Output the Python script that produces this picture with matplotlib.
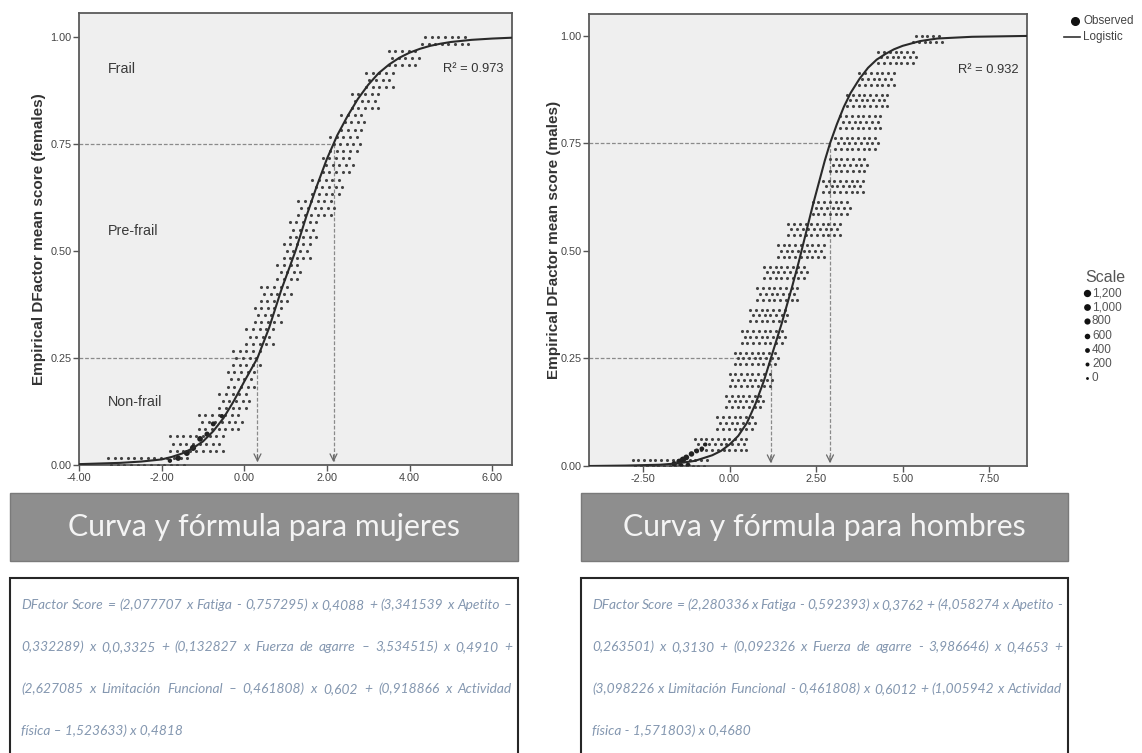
import matplotlib
matplotlib.use('Agg')
import matplotlib.pyplot as plt
from matplotlib.ticker import FormatStrFormatter
from matplotlib.patches import Rectangle
from matplotlib.lines import Line2D

W, H = 1142, 753

# logistic curves, points
f_curve_x = [-4.0, -3.0, -2.5, -2.0, -1.75, -1.5, -1.25, -1.0, -0.75, -0.5, -0.25, 0.0, 0.32,
             0.6, 0.9, 1.24, 1.5, 1.75, 2.0, 2.16, 2.25, 2.5, 2.75, 3.0, 3.25, 3.5, 3.75,
             4.0, 4.25, 4.5, 4.75, 5.0, 5.5, 6.0, 6.48]
f_curve_y = [0.002, 0.005, 0.008, 0.013, 0.019, 0.027, 0.039, 0.055, 0.079, 0.11, 0.15, 0.195, 0.25,
             0.32, 0.41, 0.50, 0.58, 0.65, 0.715, 0.75, 0.77, 0.815, 0.855, 0.888, 0.915, 0.935, 0.951,
             0.963, 0.972, 0.979, 0.984, 0.988, 0.993, 0.996, 0.998]
m_curve_x = [-4.06, -3.0, -2.0, -1.5, -1.0, -0.5, -0.25, 0.0, 0.25, 0.5, 0.75, 1.0, 1.19, 1.5,
             1.8, 2.0, 2.2, 2.4, 2.6, 2.75, 2.9, 3.1, 3.3, 3.5, 3.75, 4.0, 4.25, 4.5, 4.75,
             5.0, 5.5, 6.0, 7.0, 8.59]
m_curve_y = [0.0, 0.001, 0.003, 0.006, 0.012, 0.025, 0.035, 0.05, 0.07, 0.10, 0.145, 0.20, 0.25, 0.33,
             0.415, 0.475, 0.54, 0.605, 0.665, 0.71, 0.75, 0.795, 0.835, 0.868, 0.90, 0.926, 0.945, 0.958,
             0.969, 0.977, 0.988, 0.994, 0.998, 1.0]

# observed points: x range of the dot band at each score level
band_y = [0.00, 0.05, 0.10, 0.15, 0.20, 0.25, 0.30, 0.35, 0.40, 0.45, 0.50,
          0.55, 0.60, 0.65, 0.70, 0.75, 0.80, 0.85, 0.90, 0.95, 1.00]
f_band_lo = [-3.3, -1.8, -1.1, -0.6, -0.4, -0.27, 0.05, 0.25, 0.4, 0.8, 0.95,
             1.1, 1.3, 1.65, 1.9, 2.08, 2.35, 2.6, 2.95, 3.5, 4.3]
f_band_hi = [-1.3, -0.5, -0.05, 0.14, 0.25, 0.4, 0.75, 0.95, 1.15, 1.4, 1.6,
             1.8, 2.2, 2.4, 2.7, 2.85, 2.97, 3.25, 3.6, 4.25, 5.5]
m_band_lo = [-2.8, -1.0, -0.35, -0.1, 0.0, 0.15, 0.35, 0.6, 0.8, 1.0, 1.4,
             1.7, 2.4, 2.7, 2.9, 3.05, 3.2, 3.4, 3.75, 4.3, 5.3]
m_band_hi = [-0.6, 0.5, 0.8, 1.05, 1.3, 1.45, 1.6, 1.75, 2.0, 2.3, 2.75,
             3.2, 3.5, 3.9, 4.0, 4.3, 4.4, 4.6, 4.8, 5.4, 6.2]

# heavier (high count) points near the bottom of the curves
f_big_x = [-1.6, -1.39, -1.24, -1.07, -0.9, -0.75, -0.54, -1.8]
f_big_y = [0.016, 0.028, 0.04, 0.061, 0.072, 0.096, 0.114, 0.01]
f_big_n = [900, 1100, 1200, 1000, 800, 700, 500, 500]
m_big_x = [-1.6, -1.45, -1.35, -1.25, -1.1, -0.95, -0.8, -0.7, -1.4, -1.2]
m_big_y = [0.005, 0.01, 0.015, 0.02, 0.028, 0.035, 0.04, 0.05, 0.0, 0.002]
m_big_n = [900, 1200, 1100, 1000, 900, 700, 600, 400, 800, 700]

cut_y = [0.25, 0.75]
f_cut_x = [0.32, 2.16]
m_cut_x = [1.19, 2.9]

zones = ['Frail', 'Pre-frail', 'Non-frail']
zone_y = [0.926, 0.547, 0.146]

scale_labels = ['1,200', '1,000', '800', '600', '400', '200', '0']
scale_n = [1200, 1000, 800, 600, 400, 200, 0]

titles = ['Curva y fórmula para mujeres', 'Curva y fórmula para hombres']
f_formula = ['DFactor Score = (2,077707 x Fatiga - 0,757295) x 0,4088 + (3,341539 x Apetito –',
             '0,332289) x 0,0,3325 + (0,132827 x Fuerza de agarre – 3,534515) x 0,4910 +',
             '(2,627085 x Limitación Funcional – 0,461808) x 0,602 + (0,918866 x Actividad',
             'física – 1,523633) x 0,4818']
m_formula = ['DFactor Score = (2,280336 x Fatiga - 0,592393) x 0,3762 + (4,058274 x Apetito -',
             '0,263501) x 0,3130 + (0,092326 x Fuerza de agarre - 3,986646) x 0,4653 +',
             '(3,098226 x Limitación Funcional - 0,461808) x 0,6012 + (1,005942 x Actividad',
             'física - 1,571803) x 0,4680']

plt.rcParams['font.family'] = ['Liberation Sans', 'DejaVu Sans']


def size_of(n):
    return 3.0 + n * 0.014


def band_dots(lo, hi, dx, dy):
    xs, ys = [], []
    for k, yc in enumerate(band_y):
        for r in (-1, 0, 1):
            y = yc + r * dy
            if y < 0 or y > 1.0:
                continue
            x = lo[k] + (dx / 2 if r == 0 else 0)
            while x <= hi[k]:
                xs.append(x)
                ys.append(y)
                x += dx
    return xs, ys


fig = plt.figure(figsize=(W / 100, H / 100), dpi=100)

# overlay in pixel coords for boxes and legends
bg = fig.add_axes([0, 0, 1, 1], zorder=0)
bg.set_xlim(0, W)
bg.set_ylim(H, 0)
bg.axis('off')
bg.patch.set_alpha(0)


def px_axes(l, t, r, b):
    return fig.add_axes([l / W, 1 - b / H, (r - l) / W, (b - t) / H], zorder=2)


panels = [
    (px_axes(79, 13.3, 512, 465), (-4.0, 6.48), (0, 1.055), [-4, -2, 0, 2, 4, 6],
     f_curve_x, f_curve_y, f_band_lo, f_band_hi, f_big_x, f_big_y, f_big_n, f_cut_x,
     'Empirical DFactor mean score (females)', 'R² = 0.973', 0.16, 0.0167, -0.077),
    (px_axes(589, 14, 1027, 466), (-4.06, 8.59), (0, 1.051), [-2.5, 0, 2.5, 5, 7.5],
     m_curve_x, m_curve_y, m_band_lo, m_band_hi, m_big_x, m_big_y, m_big_n, m_cut_x,
     'Empirical DFactor mean score (males)', 'R² = 0.932', 0.165, 0.0135, -0.063),
]

for (ax, xl, yl, xt, cx, cy, lo, hi, bx, by, bn, cutx, ylab, r2, dx, dy, labx) in panels:
    ax.set_facecolor('#efefef')
    ax.set_xlim(*xl)
    ax.set_ylim(*yl)
    for s in ax.spines.values():
        s.set_color('#5a5a5a')
        s.set_linewidth(1.3)
    ax.set_xticks(xt)
    ax.set_yticks([0, 0.25, 0.5, 0.75, 1.0])
    ax.xaxis.set_major_formatter(FormatStrFormatter('%.2f'))
    ax.yaxis.set_major_formatter(FormatStrFormatter('%.2f'))
    ax.tick_params(direction='out', length=4, width=1, color='#555555',
                   labelsize=7.8, labelcolor='#444444', pad=1.5)
    ax.set_ylabel(ylab, fontsize=11, fontweight='bold', color='#333333')
    ax.yaxis.set_label_coords(labx, 0.5)

    xs, ys = band_dots(lo, hi, dx, dy)
    ax.scatter(xs, ys, s=5, color='#444444', linewidths=0, zorder=3)
    ax.scatter(bx, by, s=[size_of(n) for n in bn], color='#222222', linewidths=0, zorder=3)
    ax.plot(cx, cy, color='#2a2a2a', lw=1.5, zorder=4)

    for x0, y0 in zip(cutx, cut_y):
        ax.plot([xl[0], x0], [y0, y0], color='#8a8a8a', lw=0.9, ls=(0, (3, 1.5)), zorder=2)
        ax.plot([x0, x0], [y0, 0.01], color='#8a8a8a', lw=0.9, ls=(0, (3, 1.5)), zorder=2)
        ax.annotate('', xy=(x0, 0.0), xytext=(x0, 0.03),
                    arrowprops=dict(arrowstyle='->,head_length=0.5,head_width=0.25',
                                    color='#6a6a6a', lw=0.9), zorder=5)

    ax.text(0.98, 0.877, r2, transform=ax.transAxes, ha='right', va='center',
            fontsize=9.3, color='#333333')

left_ax = panels[0][0]
for z, zy in zip(zones, zone_y):
    left_ax.text(-3.3, zy, z, ha='left', va='center', fontsize=10.3, color='#3a3a3a')

# legends at the top right
bg.add_line(Line2D([1075], [21], marker='o', ms=5.5, color='#111111', ls='none'))
bg.text(1083, 21, 'Observed', fontsize=8.4, color='#444444', va='center')
bg.add_line(Line2D([1064, 1080], [37, 37], color='#333333', lw=1.2))
bg.text(1083, 37, 'Logistic', fontsize=8.4, color='#444444', va='center')

bg.text(1085, 277, 'Scale', fontsize=11.5, color='#555555', va='center')
for i, (lab, n) in enumerate(zip(scale_labels, scale_n)):
    yy = 293 + i * 14.2
    bg.scatter([1087], [yy], s=size_of(n) * 1.4, color='#111111', linewidths=0)
    bg.text(1092, yy, lab, fontsize=8.5, color='#555555', va='center')

# title boxes and formula boxes
boxes = [(10, 518, titles[0], f_formula), (581, 1068, titles[1], m_formula)]
renderer = fig.canvas.get_renderer()
for x0, x1, title, lines in boxes:
    bg.add_patch(Rectangle((x0, 493), x1 - x0, 68, facecolor='#8e8e8e',
                           edgecolor='#7a7a7a', lw=1))
    bg.text((x0 + x1) / 2, 527, title, ha='center', va='center', fontsize=21.8,
            color='#f4f4f4', family=['Lato', 'DejaVu Sans'])
    bg.add_patch(Rectangle((x0, 578), x1 - x0, 200, facecolor='white',
                           edgecolor='#262626', lw=1.5))
    tx0, tx1 = x0 + 11, x1 - 6
    for j, line in enumerate(lines):
        yy = 605 + j * 42
        if j == len(lines) - 1:
            bg.text(tx0, yy, line, fontsize=9.9, style='italic', color='#8497b0',
                    va='center', family=['Lato', 'DejaVu Sans'])
            continue
        # justified line: spread words across the box width
        words = line.split(' ')
        arts = [bg.text(0, yy, w, fontsize=9.9, style='italic', color='#8497b0',
                        va='center', family=['Lato', 'DejaVu Sans']) for w in words]
        widths = [a.get_window_extent(renderer).width for a in arts]
        gap = (tx1 - tx0 - sum(widths)) / (len(words) - 1)
        xx = tx0
        for a, wd in zip(arts, widths):
            a.set_x(xx)
            xx += wd + gap

fig.savefig('out.png', dpi=100)
